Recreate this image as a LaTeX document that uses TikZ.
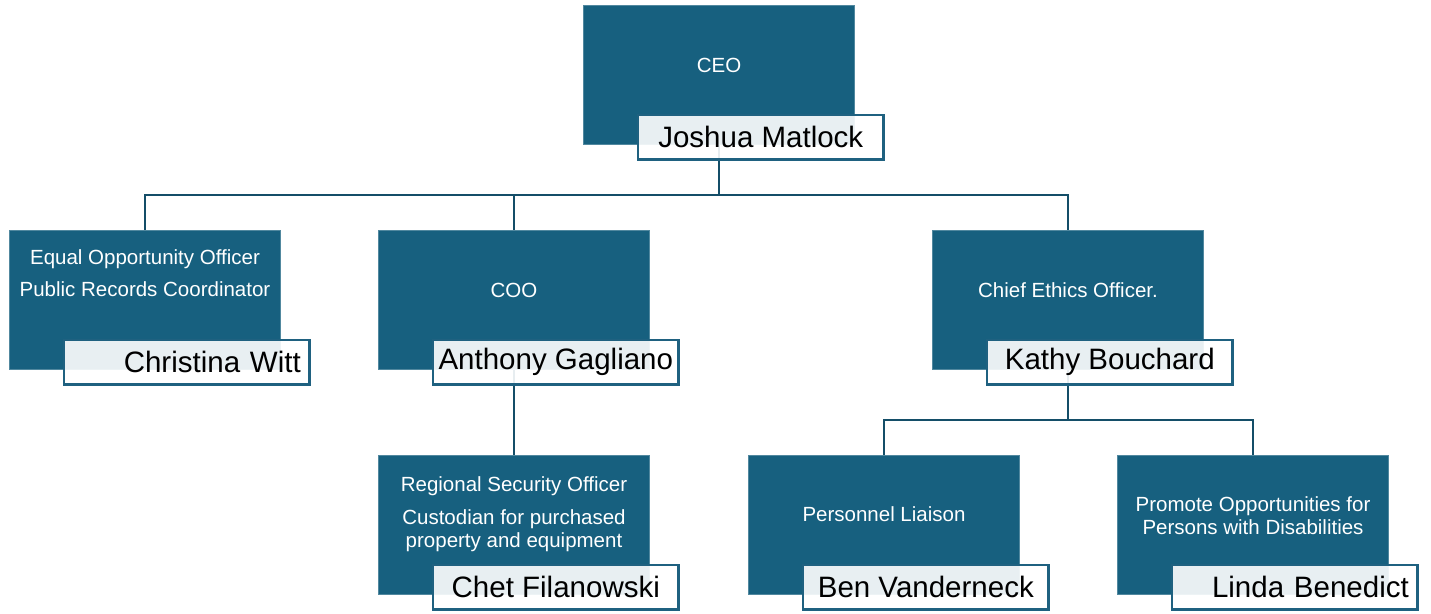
\documentclass[tikz,border=0pt]{standalone}
\usepackage{fontspec}
\setmainfont{Liberation Sans}
\usepackage{tikz}
\usetikzlibrary{positioning}
\definecolor{unitblue}{RGB}{23,96,127}
\definecolor{linkblue}{RGB}{20,78,104}
\definecolor{nameblue}{RGB}{31,97,128}
\tikzstyle{unit} = [rectangle,fill=unitblue,draw=unitblue!75!white,line width=0.6pt,
	minimum width=271pt,minimum height=139pt,inner sep=0pt]
\tikzstyle{role} = [text=white,font=\fontsize{20.5}{23}\selectfont,align=center]
\tikzstyle{person} = [rectangle,fill=white,fill opacity=0.9,text opacity=1,draw=nameblue,
	line width=2.5pt,minimum width=245.5pt,minimum height=44.5pt,inner sep=0pt,
	font=\fontsize{29.5}{33}\selectfont,anchor=south east]
\tikzstyle{link} = [draw=linkblue,line width=2.6pt]

\begin{document}
\begin{tikzpicture}[x=1pt,y=-1pt]
	\useasboundingbox (0,0) rectangle (1431,613);
	
	\node[unit] (ceo) at (719,75) {};
	\node[unit] (eeo) at (145,300) {};
	\node[unit] (coo) at (514,300) {};
	\node[unit] (ethics) at (1068,300) {};
	\node[unit] (security) at (514,525) {};
	\node[unit] (liaison) at (884,525) {};
	\node[unit] (access) at (1253,525) {};
	
	\coordinate (ceoBus) at ([yshift=-50pt]ceo.south);
	\coordinate (ethicsBus) at ([yshift=-50pt]ethics.south);
	\draw[link] (ceo.south) -- (ceoBus) -| (eeo.north);
	\draw[link] (ceoBus) -| (coo.north);
	\draw[link] (ceoBus) -| (ethics.north);
	\draw[link] (coo.south) -- (security.north);
	\draw[link] (ethics.south) -- (ethicsBus) -| (liaison.north);
	\draw[link] (ethicsBus) -| (access.north);
	
	\node[role] (ceoRole) at ([yshift=-60pt]ceo.north) {CEO};
	\node[role] (eeoRole) at ([yshift=-43pt]eeo.north) {Equal Opportunity Officer\\[9pt]Public Records Coordinator};
	\node[role] (cooRole) at ([yshift=-60pt]coo.north) {COO};
	\node[role] (ethicsRole) at ([yshift=-60pt]ethics.north) {Chief Ethics Officer.};
	\node[role] (securityRole) at ([yshift=-59pt]security.north) {Regional Security Officer\\[10pt]Custodian for purchased\\property and equipment};
	\node[role] (liaisonRole) at ([yshift=-59pt]liaison.north) {Personnel Liaison};
	\node[role] (accessRole) at ([yshift=-60pt]access.north) {Promote Opportunities for\\Persons with Disabilities};
	
	\node[person] (ceoName) at ([xshift=30pt,yshift=-16pt]ceo.south east) {Joshua Matlock};
	\node[person,text width=228pt,align=right] (eeoName) at ([xshift=30pt,yshift=-16pt]eeo.south east) {Christina Witt};
	\node[person] (cooName) at ([xshift=30pt,yshift=-16pt]coo.south east) {Anthony Gagliano};
	\node[person] (ethicsName) at ([xshift=30pt,yshift=-16pt]ethics.south east) {Kathy Bouchard};
	\node[person] (securityName) at ([xshift=30pt,yshift=-16pt]security.south east) {Chet Filanowski};
	\node[person] (liaisonName) at ([xshift=30pt,yshift=-16pt]liaison.south east) {Ben Vanderneck};
	\node[person,text width=228pt,align=right] (accessName) at ([xshift=30pt,yshift=-16pt]access.south east) {Linda Benedict};
\end{tikzpicture}
\end{document}
